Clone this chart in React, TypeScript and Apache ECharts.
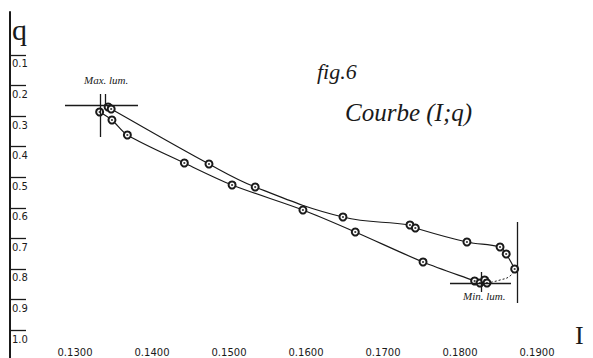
import React, { useEffect, useRef } from "react";
import * as echarts from "echarts";

// Tick values / labels
const I_TICKS = [0.13, 0.14, 0.15, 0.16, 0.17, 0.18, 0.19];
const I_LABELS = ["0.1300", "0.1400", "0.1500", "0.1600", "0.1700", "0.1800", "0.1900"];
const Q_TICKS = [0.1, 0.2, 0.3, 0.4, 0.5, 0.6, 0.7, 0.8, 0.9, 1.0];
const Q_LABELS = ["0.1", "0.2", "0.3", "0.4", "0.5", "0.6", "0.7", "0.8", "0.9", "1.0"];

// Upper branch (from Max. lum. to the right end)
const UPPER_I = [0.1343, 0.1347, 0.1474, 0.1534, 0.1648, 0.1735, 0.1742, 0.1809, 0.1852, 0.186, 0.1871];
const UPPER_Q = [0.2703, 0.2768, 0.4568, 0.5321, 0.6302, 0.6564, 0.6662, 0.712, 0.7284, 0.7513, 0.8004];

// Lower branch (from Max. lum. to Min. lum.)
const LOWER_I = [0.1332, 0.1348, 0.1368, 0.1442, 0.1504, 0.1596, 0.1664, 0.1752, 0.1819, 0.1826, 0.1832, 0.1835];
const LOWER_Q = [0.2866, 0.3128, 0.3619, 0.4535, 0.5255, 0.6073, 0.6793, 0.7775, 0.8397, 0.8462, 0.8364, 0.8462];

// Dashed closing part (Min. lum. to right end)
const DASH_I = [0.1835, 0.1852, 0.1865, 0.1871];
const DASH_Q = [0.8462, 0.8364, 0.8233, 0.8004];

// Cross marks: [I1, q1, I2, q2]
const MARKS = [
  [0.1287, 0.2637, 0.13818, 0.2637],
  [0.13325, 0.2277, 0.13325, 0.3684],
  [0.1339, 0.2277, 0.1339, 0.2637],
  [0.1787, 0.8462, 0.18662, 0.8462],
  [0.18273, 0.8102, 0.18273, 0.8756],
  [0.1874, 0.6466, 0.1874, 0.9117],
];

const zip = (a: number[], b: number[]) => a.map((v, i) => [v, b[i]]);

export default function App() {
  const ref = useRef<HTMLDivElement>(null);
  useEffect(() => {
    if (!ref.current) return;
    const chart = echarts.init(ref.current, undefined, { renderer: "svg" });
    const ink = "#1a1a1a";
    const hand = "'Liberation Serif', serif";
    const lineStyle = { color: ink, width: 1.2 };
    const upper = zip(UPPER_I, UPPER_Q);
    const lower = zip(LOWER_I, LOWER_Q);
    const dash = zip(DASH_I, DASH_Q);
    const pts = [...upper, ...lower];
    chart.setOption({
      animation: false,
      backgroundColor: "#ffffff",
      grid: { left: 10, right: 0, top: 12, bottom: 0, containLabel: false },
      xAxis: {
        type: "value",
        min: 0.121558,
        max: 0.197273,
        axisLine: { show: false },
        axisTick: { show: false },
        splitLine: { show: false },
        axisLabel: {
          inside: true,
          margin: 0,
          customValues: I_TICKS,
          formatter: (v: number) => {
            const i = I_TICKS.findIndex((t) => Math.abs(t - v) < 1e-6);
            return i >= 0 ? I_LABELS[i] : "";
          },
          color: ink,
          fontSize: 10,
          fontFamily: "'DejaVu Sans', sans-serif",
          padding: [0, 0, 1, 0],
        },
      },
      yAxis: {
        type: "value",
        inverse: true,
        min: -0.0406,
        max: 1.0916,
        axisLine: { show: true, lineStyle: { color: ink, width: 2 } },
        axisTick: {
          show: true,
          inside: true,
          length: 16,
          customValues: Q_TICKS,
          lineStyle: { color: ink, width: 1.3 },
        },
        splitLine: { show: false },
        axisLabel: {
          inside: true,
          margin: 2,
          customValues: Q_TICKS,
          formatter: (v: number) => {
            const i = Q_TICKS.findIndex((t) => Math.abs(t - v) < 1e-6);
            return i >= 0 ? Q_LABELS[i] : "";
          },
          verticalAlign: "top",
          padding: [4, 0, 0, 0],
          color: ink,
          fontSize: 10,
          fontFamily: "'DejaVu Sans', sans-serif",
        },
      },
      series: [
        {
          type: "line",
          data: upper,
          smooth: 0.4,
          symbol: "emptyCircle",
          symbolSize: 7,
          itemStyle: { color: ink, borderWidth: 1 },
          lineStyle,
          silent: true,
        },
        {
          type: "line",
          data: lower,
          smooth: 0.3,
          symbol: "emptyCircle",
          symbolSize: 7,
          itemStyle: { color: ink, borderWidth: 1 },
          lineStyle,
          silent: true,
        },
        {
          type: "line",
          data: dash,
          smooth: 0.5,
          showSymbol: false,
          lineStyle: { color: ink, width: 1, type: [2, 2] },
          silent: true,
          markLine: {
            silent: true,
            symbol: "none",
            label: { show: false },
            lineStyle: { color: ink, width: 1.3, type: "solid" },
            data: MARKS.map((m) => [{ coord: [m[0], m[1]] }, { coord: [m[2], m[3]] }]),
          },
        },
        {
          type: "scatter",
          data: pts,
          symbol: "circle",
          symbolSize: 2.2,
          itemStyle: { color: ink },
          silent: true,
          z: 5,
        },
      ],
      graphic: [
        { type: "text", left: 12, top: 14, style: { text: "q", font: `30px ${hand}`, fill: ink } },
        { type: "text", left: 575, top: 322, style: { text: "I", font: `26px ${hand}`, fill: ink } },
        { type: "text", left: 317, top: 60, style: { text: "fig.6", font: `italic 22px ${hand}`, fill: ink } },
        { type: "text", left: 345, top: 100, style: { text: "Courbe (I;q)", font: `italic 25px ${hand}`, fill: ink } },
        { type: "text", left: 84, top: 74, style: { text: "Max. lum.", font: `italic 11px ${hand}`, fill: ink } },
        { type: "text", left: 463, top: 290, style: { text: "Min. lum.", font: `italic 11px ${hand}`, fill: ink } },
      ],
    });
    return () => chart.dispose();
  }, []);
  return (
    <div
      ref={ref}
      style={{ position: "fixed", left: 0, top: 0, width: 593, height: 358 }}
    />
  );
}
